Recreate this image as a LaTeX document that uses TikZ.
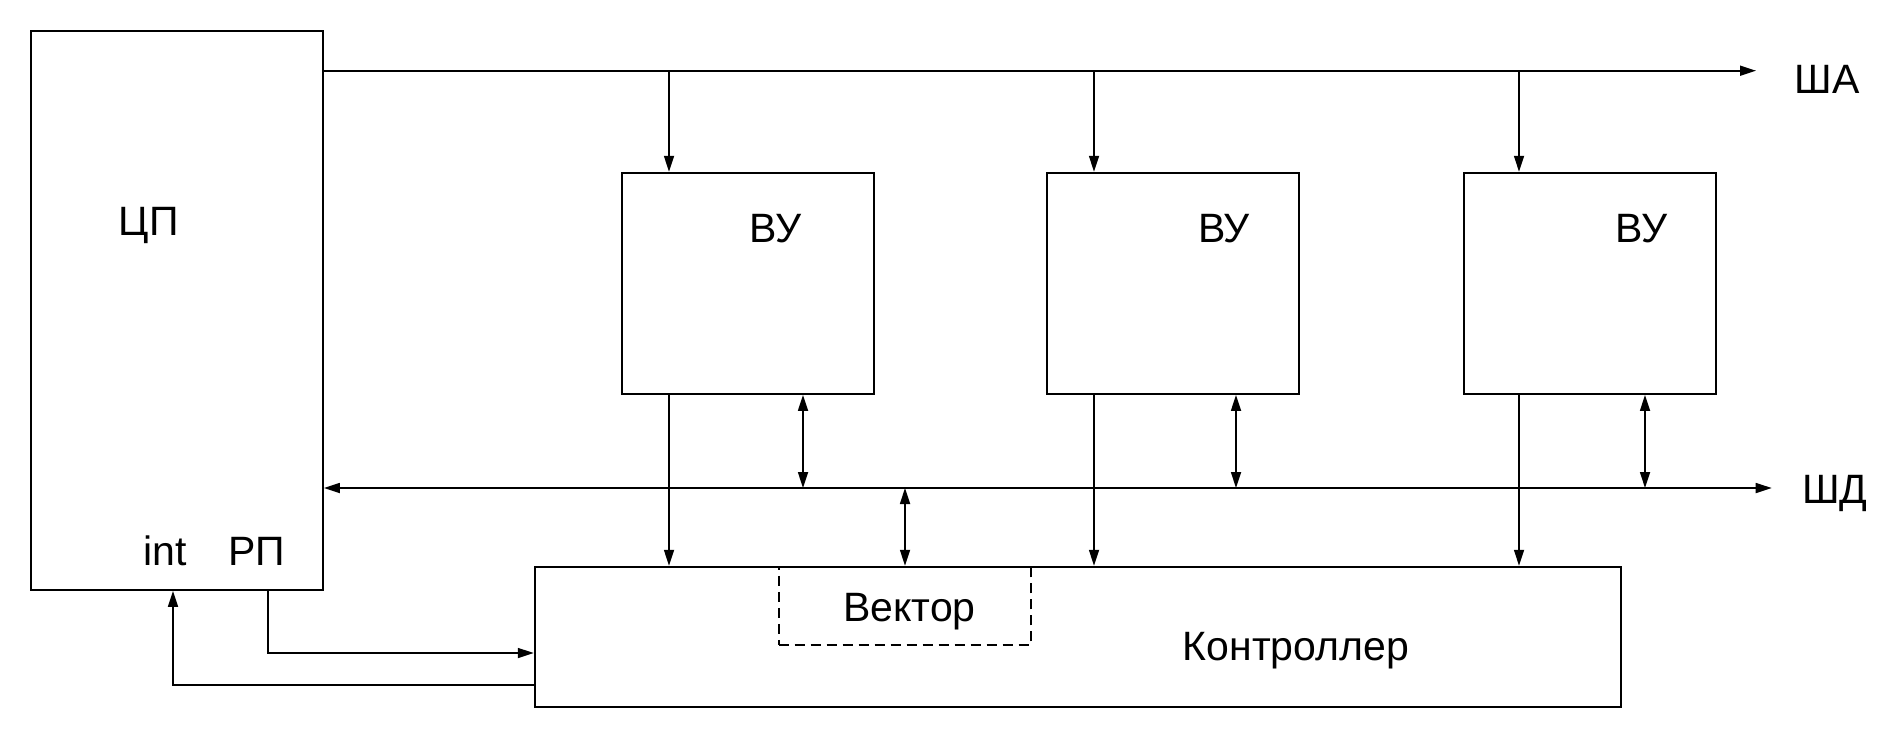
\documentclass[tikz,border=0pt]{standalone}
\usepackage{fontspec}
\setmainfont{Liberation Sans}
\usetikzlibrary{arrows.meta}
\begin{document}
\begin{tikzpicture}[x=1pt,y=-1pt,
  box/.style={draw, line width=1.9pt, rectangle, inner sep=0pt},
  lbl/.style={inner sep=0pt, anchor=base, font=\fontsize{41}{49}\selectfont},
  conn/.style={line width=1.7pt},
  arr/.style={conn, -{Triangle[length=16pt,width=10pt]}},
  barr/.style={conn, {Triangle[length=16pt,width=10pt]}-{Triangle[length=16pt,width=10pt]}},
  vecbox/.style={draw, line width=1.7pt, dash pattern=on 10pt off 6pt, rectangle, inner sep=0pt}]
\useasboundingbox (0,0) rectangle (1902,740);
% blocks
\node[box, minimum width=292pt, minimum height=559pt] (cpu) at (177,310.5) {};
\node[box, minimum width=252.3pt, minimum height=221.3pt] (vu1) at (747.85,283.35) {};
\node[box, minimum width=252.3pt, minimum height=221.3pt] (vu2) at (1173,283.35) {};
\node[box, minimum width=252.3pt, minimum height=221.3pt] (vu3) at (1590,283.35) {};
\node[box, minimum width=1086.3pt, minimum height=140.6pt] (ctrl) at (1077.85,637) {};
\node[vecbox, minimum width=252.3pt, minimum height=78.3pt] (vec) at (904.85,605.85) {};
% labels
\node[lbl] (tcp) at (148.7,235) {ЦП};
\node[lbl] (tint) at (165,565) {int};
\node[lbl] (trp) at (256.5,565) {РП};
\node[lbl] (tvu1) at (776,242.3) {ВУ};
\node[lbl] (tvu2) at (1224,242.3) {ВУ};
\node[lbl] (tvu3) at (1641,242.3) {ВУ};
\node[lbl] (tvec) at (909.5,621) {Вектор};
\node[lbl] (tctrl) at (1296,660) {Контроллер};
\node[lbl] (tsha) at (1827,93.3) {ША};
\node[lbl] (tshd) at (1835,503.3) {ШД};
% bus end points and taps
\coordinate (shaR) at (1756,70.7);
\coordinate (shdR) at (1771.7,488);
\coordinate (a1) at (669,70.7);
\coordinate (a2) at (1094,70.7);
\coordinate (a3) at (1519,70.7);
\coordinate (d1) at (803,488);
\coordinate (d2) at (1236,488);
\coordinate (d3) at (1645,488);
\coordinate (dc) at (905,488);
\coordinate (rp) at (267.7,653);
\coordinate (ip) at (173,685);
% buses
\draw[arr] (cpu.east |- shaR) -- (shaR);
\draw[barr] (cpu.east |- shdR) -- (shdR);
% address taps
\draw[arr] (a1) -- (a1 |- vu1.north);
\draw[arr] (a2) -- (a2 |- vu2.north);
\draw[arr] (a3) -- (a3 |- vu3.north);
% VU to controller
\draw[arr] (a1 |- vu1.south) -- (a1 |- ctrl.north);
\draw[arr] (a2 |- vu2.south) -- (a2 |- ctrl.north);
\draw[arr] (a3 |- vu3.south) -- (a3 |- ctrl.north);
% data taps
\draw[barr] (d1 |- vu1.south) -- (d1);
\draw[barr] (d2 |- vu2.south) -- (d2);
\draw[barr] (d3 |- vu3.south) -- (d3);
\draw[barr] (dc) -- (dc |- ctrl.north);
% control lines
\draw[arr] (rp |- cpu.south) -- (rp) -- (rp -| ctrl.west);
\draw[arr] (ip -| ctrl.west) -- (ip) -- (ip |- cpu.south);
\end{tikzpicture}
\end{document}
